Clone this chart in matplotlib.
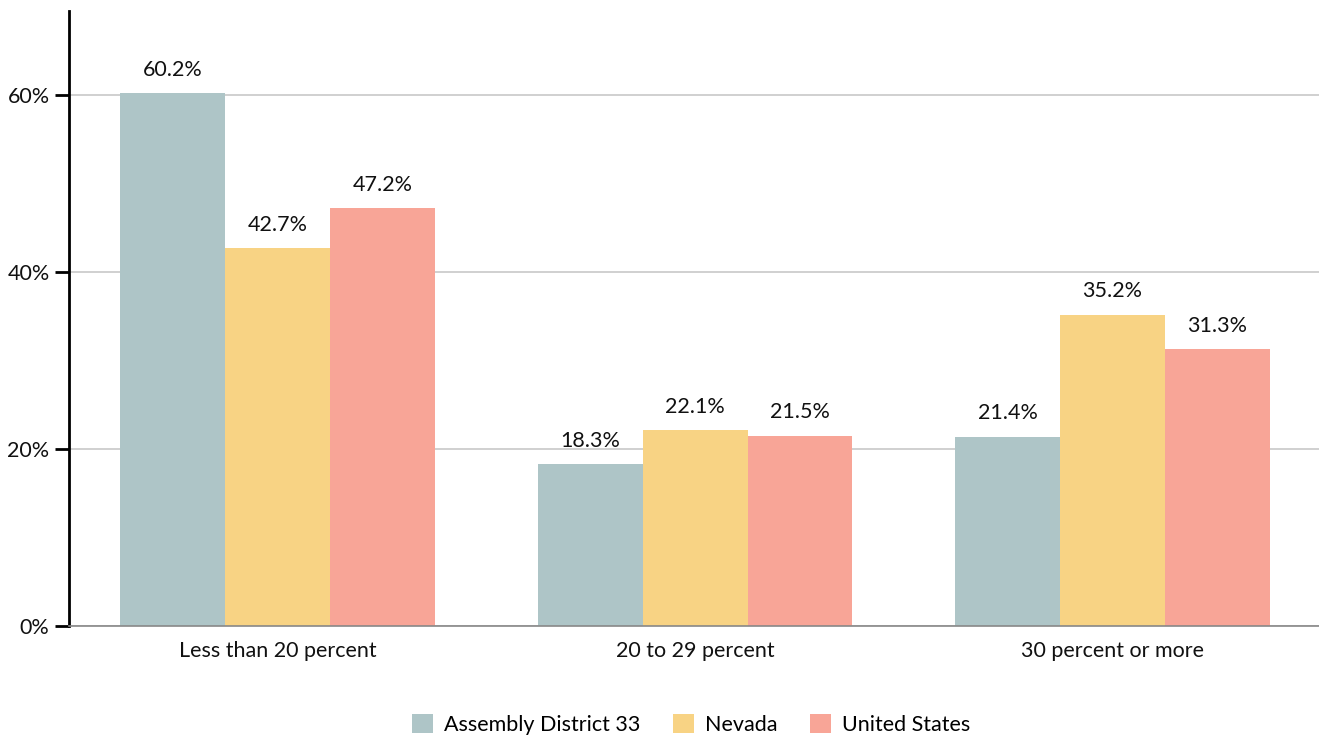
import matplotlib
matplotlib.use("Agg")
import matplotlib.pyplot as plt
import numpy as np

plt.rcParams['font.family'] = ['Lato', 'DejaVu Sans']

categories = ["Less than 20 percent", "20 to 29 percent", "30 percent or more"]
series = ["Assembly District 33", "Nevada", "United States"]
district = [60.2, 18.3, 21.4]
nevada = [42.7, 22.1, 35.2]
usa = [47.2, 21.5, 31.3]
colors = ["#AEC5C7", "#F8D384", "#F8A597"]

fig = plt.figure(figsize=(13.19, 7.38), dpi=100)
ax = fig.add_axes([69/1319, 1-626/738, 1-69/1319, (626-11)/738])

x = np.arange(len(categories))
w = 0.2515
for i, (vals, name) in enumerate(zip([district, nevada, usa], series)):
    bars = ax.bar(x + (i-1)*w, vals, w, color=colors[i], label=name, zorder=2)
    for b, v in zip(bars, vals):
        ax.text(b.get_x() + b.get_width()/2, v + 1.5, f"{v:.1f}%", ha="center",
                va="bottom", fontsize=15.5, color="#111111")

ax.set_xlim(-0.5, 2.495)
ax.set_ylim(0, 69.5)
ax.set_yticks([0, 20, 40, 60])
ax.set_yticklabels([f"{t}%" for t in [0, 20, 40, 60]], fontsize=15.5, color="#111111")
ax.set_xticks(x)
ax.set_xticklabels(categories, fontsize=15.5, color="#111111")
ax.tick_params(axis="x", length=0, pad=11)
ax.tick_params(axis="y", length=10, width=2, pad=4)
ax.yaxis.grid(True, color="#C8C8C8", linewidth=1.2, zorder=0)
ax.set_axisbelow(True)
for s in ["top", "right"]:
    ax.spines[s].set_visible(False)
ax.spines["left"].set_linewidth(2)
ax.spines["bottom"].set_color("#888888")
ax.spines["bottom"].set_linewidth(1.2)

fig.legend(loc="lower center", bbox_to_anchor=(0.524, -0.022), ncol=3, frameon=False,
           fontsize=15.5, handlelength=1.0, handleheight=1.0, columnspacing=1.5,
           handletextpad=0.5)

fig.savefig("out.png", dpi=100)
